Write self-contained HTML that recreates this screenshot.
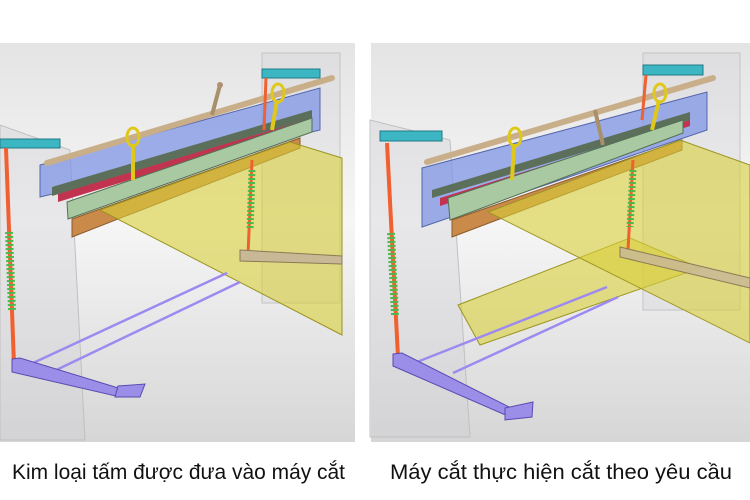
<!DOCTYPE html>
<html><head><meta charset="utf-8"><style>
html,body{margin:0;padding:0;background:#fff;width:750px;height:500px;overflow:hidden}
svg{display:block}
</style></head><body>
<svg width="750" height="500" viewBox="0 0 750 500" xmlns="http://www.w3.org/2000/svg">
<defs>
<linearGradient id="bg" x1="0" y1="0" x2="0" y2="1">
<stop offset="0" stop-color="#e4e4e4"/><stop offset="0.45" stop-color="#f6f6f6"/><stop offset="1" stop-color="#d6d6d6"/>
</linearGradient>
</defs>
<rect width="750" height="500" fill="#fff"/>
<rect x="0" y="43" width="355" height="399" fill="url(#bg)"/>
<rect x="371" y="43" width="379" height="399" fill="url(#bg)"/>

<!-- LEFT PANEL -->
<g>
<rect x="262" y="53" width="78" height="250" fill="#d0d0d8" fill-opacity="0.3" stroke="#c4c4c4"/>
<polygon points="0,125 70,150 85,440 0,440" fill="#cfcfd4" fill-opacity="0.35" stroke="#c0c0c0"/>
<polygon points="40,165 320,88 320,130 40,197" fill="#7f95e6" fill-opacity="0.75" stroke="#5566aa"/>
<polygon points="52,187 312,110 312,118 52,196" fill="#5b6f5a"/>
<polygon points="58,194 312,118 312,124 58,202" fill="#c2334f"/>
<polygon points="67,202 312,118 312,132 68,219" fill="#a9c9a2" stroke="#557055"/>
<polygon points="72,219 300,138 300,148 72,237" fill="#c98a4a" stroke="#8a5a2a"/>
<polygon points="100,210 290,142 342,158 342,335" fill="#d8cf3a" fill-opacity="0.6" stroke="#9a9420"/>
<line x1="47" y1="163" x2="332" y2="78" stroke="#c9ae8a" stroke-width="6" stroke-linecap="round"/>
<line x1="212" y1="115" x2="220" y2="85" stroke="#a8906a" stroke-width="4"/>
<circle cx="220" cy="85" r="3" fill="#b09070"/>
<ellipse cx="133" cy="137" rx="6" ry="9" fill="none" stroke="#e0c81a" stroke-width="3"/>
<line x1="133" y1="144" x2="133" y2="180" stroke="#e0c81a" stroke-width="4"/>
<ellipse cx="278" cy="93" rx="6" ry="9" fill="none" stroke="#e0c81a" stroke-width="3"/>
<line x1="277" y1="100" x2="272" y2="130" stroke="#e0c81a" stroke-width="4"/>
<rect x="0" y="139" width="60" height="9" fill="#3db6c4" stroke="#207a86"/>
<rect x="262" y="69" width="58" height="9" fill="#3db6c4" stroke="#207a86"/>
<line x1="6" y1="148" x2="14" y2="365" stroke="#f06030" stroke-width="4"/>
<line x1="9" y1="232" x2="12" y2="310" stroke="#4cb84c" stroke-width="8" stroke-dasharray="2 2"/>
<line x1="266" y1="78" x2="264" y2="130" stroke="#f06030" stroke-width="3"/>
<line x1="252" y1="160" x2="248" y2="255" stroke="#f06030" stroke-width="3"/>
<line x1="252" y1="170" x2="250" y2="230" stroke="#4cb84c" stroke-width="7" stroke-dasharray="2 2"/>
<line x1="33" y1="363" x2="227" y2="273" stroke="#9d8af0" stroke-width="2.5"/>
<line x1="50" y1="373" x2="240" y2="282" stroke="#9d8af0" stroke-width="2.5"/>
<polygon points="240,250 342,256 342,264 240,261" fill="#c9b895" stroke="#8a7a55"/>
<polygon points="12,359 20,358 125,390 120,397 12,372" fill="#9b8ee8" stroke="#5a4ab0"/>
<polygon points="118,386 145,384 140,397 115,397" fill="#9b8ee8" stroke="#5a4ab0"/>
</g>

<!-- RIGHT PANEL -->
<g>
<rect x="643" y="53" width="97" height="257" fill="#d0d0d8" fill-opacity="0.3" stroke="#c4c4c4"/>
<polygon points="370,120 450,140 470,437 370,437" fill="#cfcfd4" fill-opacity="0.35" stroke="#c0c0c0"/>
<polygon points="422,168 707,92 707,130 422,227" fill="#7f95e6" fill-opacity="0.75" stroke="#5566aa"/>
<polygon points="432,190 690,112 690,120 432,198" fill="#5b6f5a"/>
<polygon points="440,198 690,120 690,126 440,206" fill="#c2334f"/>
<polygon points="448,198 683,120 683,133 450,220" fill="#a9c9a2" stroke="#557055"/>
<polygon points="452,220 682,140 682,150 452,237" fill="#c98a4a" stroke="#8a5a2a"/>
<polygon points="458,305 630,238 700,268 480,345" fill="#d8cf3a" fill-opacity="0.6" stroke="#9a9420"/>
<polygon points="488,212 680,140 750,165 750,343" fill="#d8cf3a" fill-opacity="0.6" stroke="#9a9420"/>
<line x1="427" y1="162" x2="713" y2="78" stroke="#c9ae8a" stroke-width="6" stroke-linecap="round"/>
<line x1="595" y1="110" x2="603" y2="145" stroke="#a8906a" stroke-width="4"/>
<ellipse cx="515" cy="137" rx="6" ry="9" fill="none" stroke="#e0c81a" stroke-width="3"/>
<line x1="514" y1="144" x2="512" y2="180" stroke="#e0c81a" stroke-width="4"/>
<ellipse cx="660" cy="93" rx="6" ry="9" fill="none" stroke="#e0c81a" stroke-width="3"/>
<line x1="659" y1="100" x2="652" y2="130" stroke="#e0c81a" stroke-width="4"/>
<rect x="380" y="131" width="62" height="10" fill="#3db6c4" stroke="#207a86"/>
<rect x="643" y="65" width="60" height="10" fill="#3db6c4" stroke="#207a86"/>
<line x1="387" y1="143" x2="398" y2="357" stroke="#f06030" stroke-width="4"/>
<line x1="391" y1="233" x2="395" y2="315" stroke="#4cb84c" stroke-width="8" stroke-dasharray="2 2"/>
<line x1="646" y1="75" x2="642" y2="120" stroke="#f06030" stroke-width="3"/>
<line x1="633" y1="160" x2="628" y2="250" stroke="#f06030" stroke-width="3"/>
<line x1="633" y1="170" x2="630" y2="227" stroke="#4cb84c" stroke-width="7" stroke-dasharray="2 2"/>
<line x1="417" y1="362" x2="607" y2="287" stroke="#9d8af0" stroke-width="2.5"/>
<line x1="453" y1="373" x2="618" y2="297" stroke="#9d8af0" stroke-width="2.5"/>
<polygon points="620,247 750,278 750,288 620,257" fill="#c9b895" fill-opacity="0.85" stroke="#8a7a55"/>
<polygon points="393,354 402,353 515,410 510,417 393,366" fill="#9b8ee8" stroke="#5a4ab0"/>
<polygon points="505,408 533,402 532,417 505,420" fill="#9b8ee8" stroke="#5a4ab0"/>
</g>

<text x="12" y="479" font-family="Liberation Sans, sans-serif" font-size="21" fill="#111" textLength="333" lengthAdjust="spacingAndGlyphs">Kim loại tấm được đưa vào máy cắt</text>
<text x="390" y="479" font-family="Liberation Sans, sans-serif" font-size="21" fill="#111" textLength="342" lengthAdjust="spacingAndGlyphs">Máy cắt thực hiện cắt theo yêu cầu</text>
</svg>
</body></html>
